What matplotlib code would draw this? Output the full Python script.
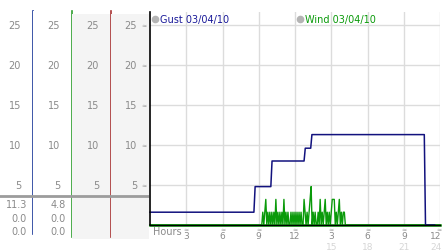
import numpy as np
import matplotlib
matplotlib.use("Agg")
import matplotlib.pyplot as plt
from matplotlib.transforms import blended_transform_factory

# ---------------- data ----------------
y_ticks = [5, 10, 15, 20, 25]
x_ticks = [3, 6, 9, 12, 15, 18, 21, 24]
x_tick_labels = ["3", "6", "9", "12", "3", "6", "9", "12"]
x_tick_labels2 = ["", "", "", "", "15", "18", "21", "24"]

gust_label = "Gust 03/04/10"
wind_label = "Wind 03/04/10"

gust_hours = [0.0, 8.6, 8.7, 10.0, 10.1, 12.75, 12.85, 13.3, 13.4, 22.7, 22.75, 22.8, 23.55]
gust_vals = [1.6, 1.6, 4.8, 4.8, 8.0, 8.0, 9.6, 9.6, 11.3, 11.3, 5.6, 0.0, 0.0]

wind_start_hour = 9.25          # 09:15, samples every 5 minutes
wind_step_min = 5
wind_samples = [
    0, 1.6, 0, 1.6, 3.2, 0, 1.6, 0, 1.6,
    0, 1.6, 0, 1.6, 0, 3.2, 0, 1.6, 0, 1.6, 0, 1.6,
    0, 3.2, 0, 1.6, 0, 1.6, 0, 0, 1.6, 0, 1.6, 0,
    1.6, 0, 1.6, 0, 1.6, 0, 1.6, 0, 0, 3.2, 1.6, 0,
    1.6, 0, 1.6, 3.2, 4.8, 0, 1.6, 0, 1.6, 0, 0, 1.6,
    0, 3.2, 0, 1.6, 0, 1.6, 3.2, 0, 1.6, 0, 1.6, 0,
    1.6, 3.2, 3.2, 3.2, 0, 1.6, 0, 1.6, 3.2, 0, 1.6, 0,
    1.6, 1.6, 0,
]

# current-value table under the left columns
col_values = [["11.3", "0.0", "0.0"], ["4.8", "0.0", "0.0"], [], []]
col_colors = ["#1c3a9a", "#2e9e2e", "#a83232", None]

# ---------------- layout helpers ----------------
W, H = 442, 253
fig = plt.figure(figsize=(W / 100, H / 100), dpi=100)
fig.patch.set_facecolor("white")

PX_PER_UNIT = 8.0
ZERO_Y = 226.0
AX_TOP, AX_H = 13.0, 213.0


def px_axes(x0, y0, x1, y1):
    return fig.add_axes([x0 / W, 1 - y1 / H, (x1 - x0) / W, (y1 - y0) / H])


def v_of(ypx):
    return (ZERO_Y - ypx) / PX_PER_UNIT


def frac_of(ypx):
    return (ZERO_Y - ypx) / AX_H


TXT = "#8a8a8a"
FONT = "DejaVu Sans"

# ---------------- left columns ----------------
cols = [(0, 33), (33, 72), (72, 111), (111, 149)]
for i, (x0, x1) in enumerate(cols):
    top = 12 if i < 2 else 15
    ax = px_axes(x0, top, x1, 240)
    ax.set_xlim(x0, x1)
    ax.set_ylim(v_of(240), v_of(top))
    ax.set_xticks([])
    ax.set_yticks([])
    for s in ("left", "top", "bottom", "right"):
        ax.spines[s].set_visible(False)
    ax.set_facecolor("#f4f4f4" if i >= 2 else "white")
    if col_colors[i] is not None:
        ax.plot([x1 - 0.5, x1 - 0.5], [v_of(238 if i else 235), v_of(12)],
                color=col_colors[i], lw=1.2, clip_on=False, zorder=2)
    for v in y_ticks:
        ax.text(x1 - 12, v, str(v), ha="right", va="center", fontsize=7,
                color=TXT, family=FONT)
        if i == 3:
            ax.text(x1 - 5, v, "≈", ha="center", va="center", fontsize=4.5,
                    color="#9a9a9a", family=FONT)
    ax.axhline(v_of(197), color="#9c9c9c", lw=2, zorder=3)
    for r, val in enumerate(col_values[i]):
        ax.text(x1 - 6, v_of([205, 219, 232][r]), val, ha="right", va="center",
                fontsize=7, color=TXT, family=FONT)

# ---------------- main plot ----------------
ax = px_axes(150, AX_TOP, 440, ZERO_Y)
ax.set_xlim(0, 24)
ax.set_ylim(0, v_of(AX_TOP))
ax.set_facecolor("white")
for s in ("top", "right"):
    ax.spines[s].set_visible(False)
ax.spines["left"].set_color("black")
ax.spines["left"].set_linewidth(1.2)
ax.spines["bottom"].set_color("black")
ax.spines["bottom"].set_linewidth(1.0)

for xv in x_ticks:
    ax.axvline(xv, color="#dcdcdc", lw=1, zorder=0)
for yv in y_ticks:
    ax.axhline(yv, color="#dcdcdc", lw=1, zorder=0)

wind_hours = [0.0] + [wind_start_hour + k * wind_step_min / 60 for k in range(len(wind_samples))] + [24.0]
wind_vals = [0.0] + wind_samples + [0.0]
ax.plot(wind_hours, wind_vals, color="#0a9a0a", lw=1.0, clip_on=False, zorder=1.5)
ax.plot([0, 24], [0, 0], color="#0a9a0a", lw=1.8, clip_on=False, zorder=1.4)
ax.plot(gust_hours, gust_vals, color="#12127e", lw=1.1, clip_on=False, zorder=2)

ax.set_yticks([])
ax.set_xticks([])

tr = blended_transform_factory(ax.transData, ax.transAxes)
n = len(x_ticks)
for k, (xv, lab, lab2) in enumerate(zip(x_ticks, x_tick_labels, x_tick_labels2)):
    last = k == n - 1
    xpos = xv + 0.1 if last else xv
    ha = "right" if last else "center"
    ax.text(xv - (0.1 if last else 0), frac_of(232.5), "≈", ha="center", va="bottom",
            fontsize=4.5, color="#9a9a9a", transform=tr, family=FONT, clip_on=False)
    ax.text(xpos, frac_of(232.5), lab, ha=ha, va="top", fontsize=6.5, color=TXT,
            transform=tr, family=FONT, clip_on=False)
    if lab2:
        ax.text(xpos, frac_of(243), lab2, ha=ha, va="top", fontsize=6.5, color="#d6d6d6",
                transform=tr, family=FONT, clip_on=False)
ax.text(0.25, frac_of(232), "Hours", ha="left", va="center", fontsize=7, color=TXT,
        transform=tr, family=FONT)

# legend
tr_leg = blended_transform_factory(ax.transAxes, ax.transData)
ax.plot([5 / 290], [v_of(20)], marker="o", ms=4.5, color="#b4b4b4",
        transform=tr_leg, clip_on=False)
ax.text(0.8, v_of(20), gust_label, ha="left", va="center", fontsize=7,
        color="#1a1a99", family=FONT)
ax.plot([150 / 290], [v_of(20)], marker="o", ms=4.5, color="#b4b4b4",
        transform=tr_leg, clip_on=False)
ax.text(12.8, v_of(20), wind_label, ha="left", va="center", fontsize=7,
        color="#0a9a0a", family=FONT)

fig.savefig("out.png", dpi=100, facecolor="white")
